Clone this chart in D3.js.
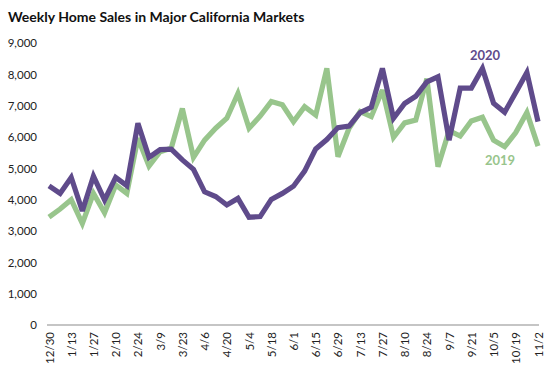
<!DOCTYPE html>
<html><head><meta charset="utf-8">
<script src="https://cdn.jsdelivr.net/npm/d3@7"></script>
<style>body{margin:0;background:#fff}svg{display:block}</style>
</head><body>
<svg id="c" width="552" height="371"></svg>
<script>
const weeks = ["12/30","1/6","1/13","1/20","1/27","2/3","2/10","2/17","2/24","3/2","3/9","3/16","3/23","3/30","4/6","4/13","4/20","4/27","5/4","5/11","5/18","5/25","6/1","6/8","6/15","6/22","6/29","7/6","7/13","7/20","7/27","8/3","8/10","8/17","8/24","8/31","9/7","9/14","9/21","9/28","10/5","10/12","10/19","10/26","11/2"];
const sales2020 = [4440,4200,4710,3640,4750,3990,4710,4450,6440,5350,5600,5610,5270,4970,4250,4100,3830,4040,3440,3460,4010,4200,4430,4910,5620,5920,6300,6350,6780,6950,8190,6600,7070,7300,7760,7920,5900,7560,7560,8190,7080,6790,7420,8060,6490];
const sales2019 = [3440,3700,4000,3240,4200,3580,4470,4200,5960,5070,5530,5640,6910,5350,5900,6280,6600,7390,6280,6670,7130,7030,6490,6970,6700,8190,5370,6280,6810,6650,7500,5990,6450,6540,7860,5050,6200,6030,6510,6630,5900,5690,6140,6780,5710];
const yTicks = [0,1000,2000,3000,4000,5000,6000,7000,8000,9000];
const seriesNames = ["2020","2019"];
const colors = {"2020":"#5F4B8B","2019":"#98C58C"};

const svg = d3.select("#c");
const font = "Lato, 'Open Sans', sans-serif";
const x = d3.scalePoint().domain(weeks).range([49, 538]);
const y = d3.scaleLinear().domain([0, 9000]).range([325, 43]);

svg.append("text").attr("x", 8).attr("y", 22).attr("font-family", font)
  .attr("font-size", 14).attr("font-weight", "bold").attr("fill", "#111")
  .text("Weekly Home Sales in Major California Markets");

const ya = svg.append("g").attr("transform", "translate(37,0)")
  .call(d3.axisLeft(y).tickValues(yTicks).tickSize(0).tickPadding(0).tickFormat(d3.format(",")));
ya.select(".domain").remove();
ya.selectAll("text").attr("font-family", font).attr("font-size", 11.5).attr("fill", "#222");

const xa = svg.append("g").attr("transform", "translate(0,325)")
  .call(d3.axisBottom(x).tickValues(weeks.filter((d,i)=>i%2===0)).tickSize(0).tickPadding(0));
xa.select(".domain").attr("stroke", "#8c8c8c").attr("stroke-width", 1.2).attr("d", "M47,0H539");
xa.selectAll("text").attr("font-family", font).attr("font-size", 11.5).attr("fill", "#222")
  .attr("transform", "rotate(-90)").attr("text-anchor", "end").attr("dy", "0.35em")
  .attr("x", -7).attr("y", 0);

const line = d3.line().x((d,i)=>x(weeks[i])).y(d=>y(d));
const data = {"2020": sales2020, "2019": sales2019};
["2019","2020"].forEach(k=>{
  svg.append("path").datum(data[k]).attr("d", line).attr("fill","none")
    .attr("stroke", colors[k]).attr("stroke-width", 5.2).attr("stroke-linejoin","miter").attr("stroke-miterlimit", 3);
});

svg.append("text").attr("x", 485).attr("y", 60).attr("text-anchor","middle").attr("font-family", font)
  .attr("font-size", 13).attr("font-weight","bold").attr("fill", colors["2020"]).text(seriesNames[0]);
svg.append("text").attr("x", 500).attr("y", 165).attr("text-anchor","middle").attr("font-family", font)
  .attr("font-size", 13).attr("font-weight","bold").attr("fill", colors["2019"]).text(seriesNames[1]);
</script>
</body></html>
